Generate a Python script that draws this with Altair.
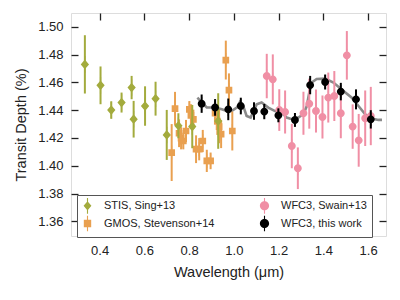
import altair as alt
import pandas as pd

# ---------------- data ----------------
stis_wl = [0.334, 0.404, 0.452, 0.498, 0.543, 0.552, 0.603, 0.650, 0.700, 0.752, 0.814, 0.930]
stis_depth = [1.4730, 1.4579, 1.4401, 1.4455, 1.4563, 1.4335, 1.4430, 1.4483, 1.4222, 1.4288, 1.4282, 1.4322]
stis_err = [0.0210, 0.0136, 0.0063, 0.0072, 0.0084, 0.0132, 0.0142, 0.0122, 0.0180, 0.0090, 0.0156, 0.0200]

gmos_wl = [0.722, 0.737, 0.755, 0.764, 0.774, 0.786, 0.801, 0.808, 0.819, 0.831, 0.845,
           0.861, 0.879, 0.896, 0.916, 0.926, 0.934, 0.943, 0.964, 0.978, 0.993]
gmos_depth = [1.4095, 1.4412, 1.4234, 1.4198, 1.4178, 1.4250, 1.4406, 1.4363, 1.4334, 1.4119, 1.4119,
              1.4178, 1.4035, 1.4035, 1.4378, 1.4322, 1.4282, 1.4227, 1.4761, 1.4545, 1.4250]
gmos_err = [0.0205, 0.0120, 0.0100, 0.0080, 0.0060, 0.0080, 0.0060, 0.0080, 0.0070, 0.0100, 0.0080,
            0.0080, 0.0080, 0.0060, 0.0080, 0.0100, 0.0120, 0.0100, 0.0140, 0.0120, 0.0140]

swain_wl = [1.147, 1.174, 1.203, 1.229, 1.259, 1.286, 1.311, 1.337, 1.367, 1.396, 1.422,
            1.449, 1.478, 1.505, 1.531, 1.558, 1.587, 1.612]
swain_depth = [1.4646, 1.4622, 1.4401, 1.4387, 1.4142, 1.3982, 1.4378, 1.4447, 1.4394, 1.4351, 1.4491,
               1.4502, 1.4378, 1.4795, 1.4282, 1.4183, 1.4342, 1.4358]
swain_err = [0.0160, 0.0180, 0.0150, 0.0155, 0.0160, 0.0150, 0.0155, 0.0180, 0.0155, 0.0155, 0.0180,
             0.0180, 0.0180, 0.0175, 0.0160, 0.0190, 0.0200, 0.0210]

this_wl = [0.856, 0.916, 0.975, 1.031, 1.090, 1.136, 1.199, 1.273, 1.341, 1.408, 1.478, 1.546, 1.612]
this_depth = [1.4447, 1.4420, 1.4406, 1.4430, 1.4394, 1.4390, 1.4363, 1.4330, 1.4581, 1.4603, 1.4534, 1.4478, 1.4334]
this_err = [0.0066, 0.0060, 0.0078, 0.0060, 0.0063, 0.0055, 0.0050, 0.0050, 0.0066, 0.0054, 0.0063, 0.0072, 0.0066]

model_wl = [0.837, 0.860, 0.879, 0.916, 0.946, 0.968, 0.990, 1.013, 1.027, 1.042, 1.057, 1.075,
            1.102, 1.124, 1.154, 1.184, 1.214, 1.236, 1.259, 1.288, 1.311, 1.326, 1.337, 1.348,
            1.370, 1.408, 1.445, 1.490, 1.527, 1.557, 1.587, 1.616, 1.646, 1.662]
model_depth = [1.4490, 1.4450, 1.4420, 1.4419, 1.4406, 1.4394, 1.4394, 1.4419, 1.4459, 1.4430, 1.4358, 1.4347,
               1.4442, 1.4455, 1.4419, 1.4394, 1.4383, 1.4347, 1.4335, 1.4347, 1.4371, 1.4430, 1.4527, 1.4599,
               1.4625, 1.4627, 1.4599, 1.4538, 1.4490, 1.4430, 1.4370, 1.4340, 1.4330, 1.4330]

x_ticks = [0.4, 0.6, 0.8, 1.0, 1.2, 1.4, 1.6]
y_ticks = [1.36, 1.38, 1.40, 1.42, 1.44, 1.46, 1.48, 1.50]

names = ["STIS, Sing+13", "GMOS, Stevenson+14", "WFC3, Swain+13", "WFC3, this work"]
colors = ["#a3ab3d", "#e9a050", "#f08fa5", "#000000"]

# ---------------- tables ----------------
def table(name, wl, d, e):
    return pd.DataFrame({
        "series": name, "wl": wl, "depth": d,
        "lo": [a - b for a, b in zip(d, e)], "hi": [a + b for a, b in zip(d, e)],
    })

df = pd.concat([
    table(names[0], stis_wl, stis_depth, stis_err),
    table(names[1], gmos_wl, gmos_depth, gmos_err),
    table(names[2], swain_wl, swain_depth, swain_err),
    table(names[3], this_wl, this_depth, this_err),
], ignore_index=True)
model = pd.DataFrame({"wl": model_wl, "depth": model_depth})

# ---------------- styling ----------------
FONT = "Liberation Sans"
W, H = 315, 223
xdom = [0.272, 1.68]
ydom = [1.3494, 1.510]

stub = " M-0.12,-1.7L0.12,-1.7L0.12,1.7L-0.12,1.7Z"
diamond = "M0,-1L0.85,0L0,1L-0.85,0Z" + stub
square = "M-0.8,-0.8L0.8,-0.8L0.8,0.8L-0.8,0.8Z" + stub
circle = "M-1,0A1,1 0 1,1 1,0A1,1 0 1,1 -1,0Z" + stub

cscale = alt.Scale(domain=names, range=colors)
sscale = alt.Scale(domain=names, range=[diamond, square, circle, circle])

xs = alt.Scale(domain=xdom, nice=False, zero=False)
ys = alt.Scale(domain=ydom, nice=False, zero=False)

x_axis = alt.Axis(orient="bottom", values=x_ticks, format=".1f", domain=False, grid=False,
                  offset=-7, tickSize=7, tickWidth=1.3, tickColor="#222",
                  labelPadding=8, labelFontSize=13, labelColor="#222",
                  title="Wavelength (μm)", titleFontSize=14.5, titleFontWeight="normal",
                  titlePadding=8, titleColor="#222")
y_axis = alt.Axis(orient="left", values=y_ticks, format=".2f", domain=False, grid=False,
                  offset=-7, tickSize=7, tickWidth=1.3, tickColor="#222",
                  labelPadding=8, labelFontSize=13, labelColor="#222",
                  title="Transit Depth (%)", titleFontSize=14.5, titleFontWeight="normal",
                  titlePadding=9, titleColor="#222")
x_top = alt.Axis(orient="top", values=x_ticks, labels=False, domain=False, grid=False,
                 offset=-7, tickSize=7, tickWidth=1.3, tickColor="#222", title=None)
y_right = alt.Axis(orient="right", values=y_ticks, labels=False, domain=False, grid=False,
                   offset=-7, tickSize=7, tickWidth=1.3, tickColor="#222", title=None)

legend = alt.Legend(title=None, orient="none", legendX=6, legendY=182, columns=2,
                    columnPadding=44, rowPadding=1, padding=5,
                    strokeColor="#555", fillColor="white",
                    labelFontSize=11, labelColor="#222", labelFont=FONT,
                    symbolSize=85, labelOffset=11)

X = alt.X("wl:Q", scale=xs, axis=x_axis)
Y = alt.Y("depth:Q", scale=ys, axis=y_axis)

sizes = {names[0]: 95, names[1]: 70, names[2]: 62, names[3]: 62}
draw_order = [names[1], names[2], names[0], names[3]]

layers = []
for nm in draw_order:
    sub = alt.Chart(df).transform_filter(alt.datum.series == nm)
    layers.append(sub.mark_rule(strokeWidth=2, color=colors[names.index(nm)]).encode(
        x=X, y=alt.Y("lo:Q", scale=ys, axis=y_axis), y2="hi:Q"))
    layers.append(sub.mark_point(filled=True, opacity=1, size=sizes[nm]).encode(
        x=X, y=Y,
        color=alt.Color("series:N", scale=cscale, legend=legend),
        shape=alt.Shape("series:N", scale=sscale, legend=legend)))

line = alt.Chart(model).mark_line(color="#8a8a8a", strokeWidth=2.6).encode(
    x=alt.X("wl:Q", scale=xs, axis=x_top),
    y=alt.Y("depth:Q", scale=ys, axis=y_right),
)

data_layers = alt.layer(*layers)

chart = alt.layer(line, data_layers).resolve_scale(x="independent", y="independent").properties(
    width=W, height=H,
    autosize=alt.AutoSizeParams(type="none"),
    padding={"left": 63, "top": 5, "right": 6, "bottom": 56},
).configure_view(stroke="#222", strokeWidth=1.5).configure(font=FONT)

chart.save("out.html", embed_options={"renderer": "svg", "actions": False})
